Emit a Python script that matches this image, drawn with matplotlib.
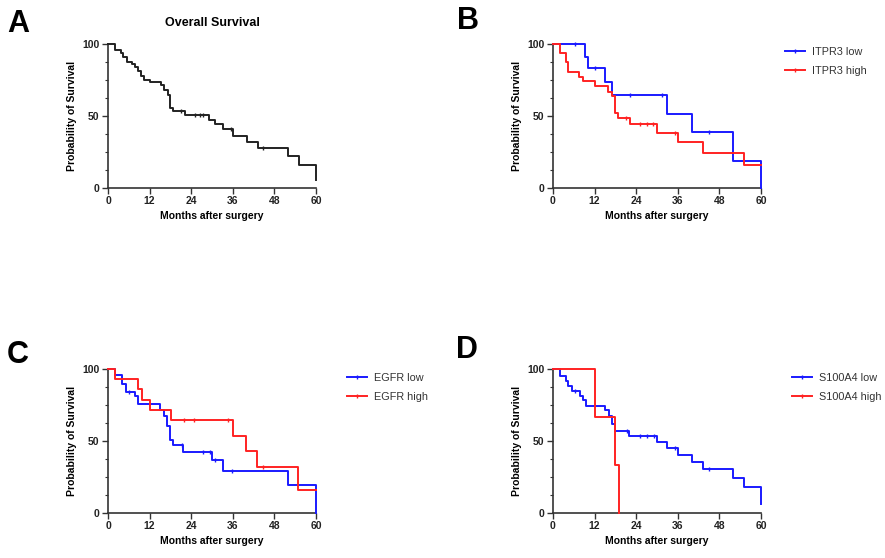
import matplotlib
matplotlib.use('Agg')
import matplotlib.pyplot as plt
from matplotlib.lines import Line2D
from matplotlib.ticker import MultipleLocator

plt.rcParams['font.family'] = ['Liberation Sans', 'DejaVu Sans']

# Panel A - overall survival
os_t = [0, 2.0, 3.75, 4.4, 5.4, 6.8, 7.8, 8.75, 9.5, 10.5, 12.1, 15.3, 16.2, 17.2, 17.9, 18.8,
        22.2, 29.1, 30.9, 33.1, 36.1, 40.2, 43.2, 52.0, 55.2, 60, 60]
os_s = [100, 96, 93.7, 90.7, 87.5, 86, 83.8, 81, 77.5, 75.2, 73.6, 71.3, 68.3, 64.8, 55.6, 53.7,
        50.9, 47.4, 44.4, 41.2, 35.9, 31.7, 27.8, 22, 16.2, 16.2, 5.8]
os_cens = [21.0, 25.0, 26.5, 27.5, 35.4, 44.8]

# Panel B - ITPR3
itpr3_low_t = [0, 9.3, 10.1, 14.9, 17.1, 33.0, 40.2, 52.0, 60, 60]
itpr3_low_s = [100, 91.2, 83.1, 73.9, 64.7, 51.3, 38.6, 18.9, 18.9, 0]
itpr3_low_cens = [6.3, 12.2, 22.2, 31.3, 45.1]
itpr3_high_t = [0, 1.9, 3.7, 4.3, 7.5, 8.7, 12.0, 15.9, 16.9, 17.9, 18.8, 22.2, 30.1, 36.1,
                43.4, 55.2, 60]
itpr3_high_s = [100, 93.5, 87.3, 80.8, 77.4, 74.4, 70.9, 67, 63.7, 52, 48.6, 44.4, 38.1, 31.6,
                24.2, 15.7, 15.7]
itpr3_high_cens = [21.2, 25.0, 27.0, 28.9, 35.2]

# Panel C - EGFR
egfr_low_t = [0, 2.0, 3.9, 5.1, 7.8, 8.75, 15.0, 16.2, 16.9, 17.9, 18.8, 21.7, 29.9, 33.1,
              52.0, 60, 60]
egfr_low_s = [100, 96, 89.8, 83.8, 81, 75.9, 71.8, 67.6, 60.2, 50.9, 47.5, 42.1, 37, 29,
              19.2, 19.2, 0]
egfr_low_cens = [6.0, 21.3, 27.4, 29.4, 30.9, 35.7]
egfr_high_t = [0, 1.9, 8.75, 9.7, 12.1, 18.1, 36.0, 39.8, 42.9, 54.9, 60]
egfr_high_s = [100, 93, 86.1, 78.7, 71.3, 64.4, 53.2, 42.8, 31.9, 16.2, 16.2]
egfr_high_cens = [22.0, 24.9, 34.7, 44.8]

# Panel D - S100A4
s100_low_t = [0, 2.0, 3.75, 4.4, 5.4, 7.8, 8.75, 9.6, 15.0, 16.2, 16.9, 17.9, 22.0, 29.9,
              33.0, 36.1, 40.2, 43.2, 52.0, 55.2, 60, 60]
s100_low_s = [100, 94.9, 91.4, 88.4, 84.5, 81.5, 78.2, 74.5, 71.3, 67.6, 62, 56.7, 53.7, 49.5,
              44.9, 40.2, 35.6, 30.9, 24.4, 18.1, 18.1, 6.5]
s100_low_cens = [6.3, 21.3, 25.2, 27.1, 29.0, 35.2, 45.1]
s100_high_t = [0, 12.0, 18.0, 19.1]
s100_high_s = [100, 66.7, 33.3, 0]

BLUE = '#1a1aff'
RED = '#ff2222'
AXC = '#333333'


def value_at(t, s, x):
    v = s[0]
    for ti, si in zip(t, s):
        if ti <= x:
            v = si
    return v


def km(ax, t, s, cens, color):
    ax.step(t, s, where='post', color=color, lw=1.4, clip_on=False, zorder=3)
    if cens:
        ax.plot(cens, [value_at(t, s, c) for c in cens], ls='none', marker='|',
                ms=3.5, mew=1.0, color=color, clip_on=False, zorder=3)


def style(ax):
    ax.set_xlim(0, 60)
    ax.set_ylim(0, 100)
    ax.xaxis.set_major_locator(MultipleLocator(12))
    ax.yaxis.set_major_locator(MultipleLocator(50))
    ax.yaxis.set_minor_locator(MultipleLocator(12.5))
    for sp in ['top', 'right']:
        ax.spines[sp].set_visible(False)
    for sp in ['left', 'bottom']:
        ax.spines[sp].set_color(AXC)
        ax.spines[sp].set_linewidth(1.2)
    ax.tick_params(which='major', length=4, width=1.0, color=AXC, labelsize=7.5, pad=2)
    ax.tick_params(which='minor', length=2.5, width=0.8, color=AXC)
    ax.tick_params(axis='x', which='minor', length=0)
    for lab in ax.get_xticklabels() + ax.get_yticklabels():
        lab.set_fontweight('bold')
        lab.set_color('#222222')
    ax.set_xlabel('Months after surgery', fontsize=7.5, fontweight='bold', labelpad=3)
    ax.set_ylabel('Probability of Survival', fontsize=7.5, fontweight='bold', labelpad=4)


def legend(ax, labels, anchor):
    hs = [Line2D([], [], color=BLUE, lw=1.4, marker='|', ms=3, mew=1.0),
          Line2D([], [], color=RED, lw=1.4, marker='|', ms=3, mew=1.0)]
    leg = ax.legend(hs, labels, loc='upper left', bbox_to_anchor=anchor,
                    bbox_transform=fig.transFigure, frameon=False, fontsize=7.8, borderpad=0,
                    borderaxespad=0, handlelength=1.8, handletextpad=0.7, labelspacing=0.85)
    for tx in leg.get_texts():
        tx.set_color('#333333')


fig = plt.figure(figsize=(8.85, 5.58), dpi=100)
W, H = 885, 558
pos = {'A': (108, 188), 'B': (553, 188), 'C': (108, 513), 'D': (553, 513)}
axs = {}
for k, (x0, y0) in pos.items():
    axs[k] = fig.add_axes([x0 / W, 1 - y0 / H, 208 / W, 144 / H])

km(axs['A'], os_t, os_s, os_cens, '#222222')
km(axs['B'], itpr3_low_t, itpr3_low_s, itpr3_low_cens, BLUE)
km(axs['B'], itpr3_high_t, itpr3_high_s, itpr3_high_cens, RED)
km(axs['C'], egfr_low_t, egfr_low_s, egfr_low_cens, BLUE)
km(axs['C'], egfr_high_t, egfr_high_s, egfr_high_cens, RED)
km(axs['D'], s100_low_t, s100_low_s, s100_low_cens, BLUE)
km(axs['D'], s100_high_t, s100_high_s, [], RED)

for ax in axs.values():
    style(ax)

axs['A'].set_title('Overall Survival', fontsize=9, fontweight='bold', pad=13)

legend(axs['B'], ['ITPR3 low', 'ITPR3 high'], (785 / W, 1 - 47 / H))
legend(axs['C'], ['EGFR low', 'EGFR high'], (347 / W, 1 - 373 / H))
legend(axs['D'], ['S100A4 low', 'S100A4 high'], (792 / W, 1 - 373 / H))

letters = {'A': (7, 24), 'B': (457, 21), 'C': (7, 355), 'D': (456, 350)}
for k, (x, y) in letters.items():
    fig.text(x / W, 1 - y / H, k, fontsize=22, fontweight='bold', va='center', ha='left')

fig.savefig('out.png', dpi=100)
